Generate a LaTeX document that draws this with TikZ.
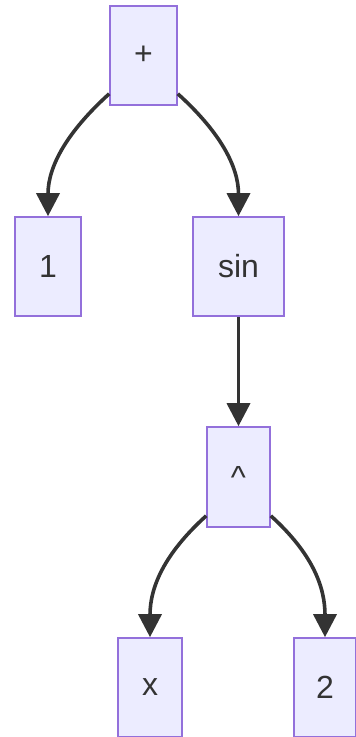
\documentclass[tikz,border=0pt]{standalone}
\usepackage{fontspec}
\setmainfont{Liberation Sans}
\usetikzlibrary{arrows.meta}
\definecolor{nodefill}{HTML}{ECECFF}
\definecolor{nodeline}{HTML}{9370DB}
\definecolor{ink}{HTML}{333333}
\begin{document}
\begin{tikzpicture}[x=1pt,y=-1pt,
  treenode/.style={draw=nodeline,fill=nodefill,line width=1.6pt,rectangle,
    minimum height=99pt,inner sep=0pt,text=ink,font=\fontsize{32}{36}\selectfont},
  edge/.style={draw=ink,line width=3.6pt,-{Triangle[width=23pt,length=23pt]}}]
\useasboundingbox (0,0) rectangle (356,737);
\node[treenode,minimum width=67pt] (plus) at (143.5,55.5) {+};
\node[treenode,minimum width=66pt] (one) at (48,266.5) {1};
\node[treenode,minimum width=91pt] (sin) at (238.5,266.5) {sin};
\node[treenode,minimum width=63pt,minimum height=100pt] (pow) at (238.5,477) {\textasciicircum};
\node[treenode,minimum width=64pt] (x) at (150,687.5) {x};
\node[treenode,minimum width=62pt] (two) at (325,687.5) {2};
\draw[edge] ([yshift=12pt]plus.south west) .. controls +(-42,38) and +(0,-50) .. (one.north);
\draw[edge] ([yshift=12pt]plus.south east) .. controls +(42,38) and +(0,-50) .. (sin.north);
\draw[edge] (sin.south) -- (pow.north);
\draw[edge] ([yshift=12pt]pow.south west) .. controls +(-42,38) and +(0,-50) .. (x.north);
\draw[edge] ([yshift=12pt]pow.south east) .. controls +(42,38) and +(0,-50) .. (two.north);
\end{tikzpicture}
\end{document}
